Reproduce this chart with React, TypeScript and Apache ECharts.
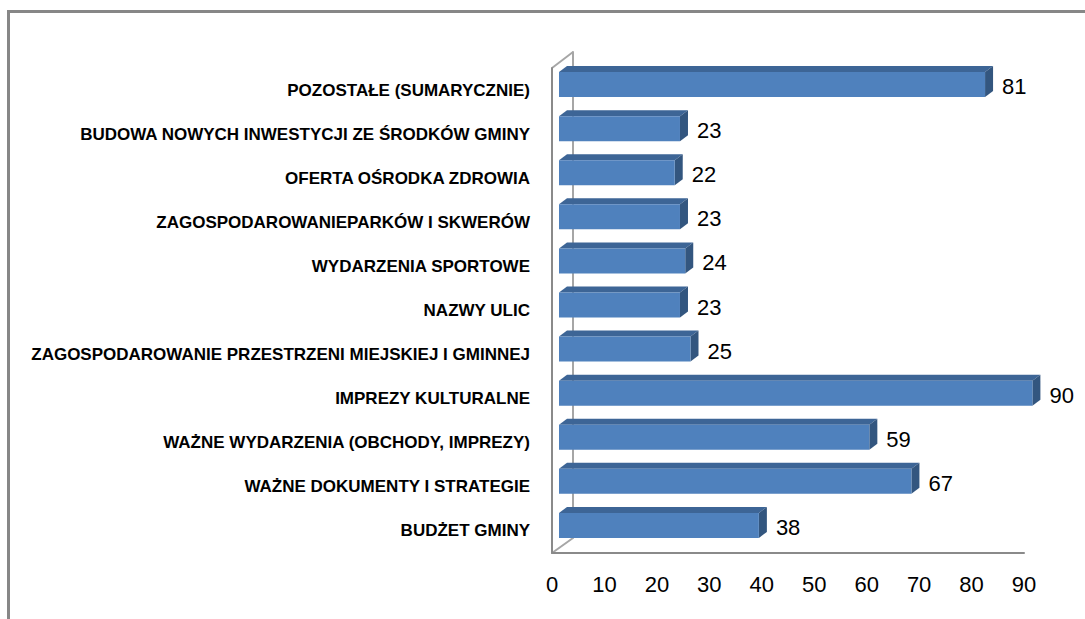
import React, { useEffect, useRef } from "react";
import * as echarts from "echarts";

const categories = [
  "BUDŻET GMINY",
  "WAŻNE DOKUMENTY I STRATEGIE",
  "WAŻNE WYDARZENIA (OBCHODY, IMPREZY)",
  "IMPREZY KULTURALNE",
  "ZAGOSPODAROWANIE PRZESTRZENI MIEJSKIEJ I GMINNEJ",
  "NAZWY ULIC",
  "WYDARZENIA SPORTOWE",
  "ZAGOSPODAROWANIEPARKÓW I SKWERÓW",
  "OFERTA OŚRODKA ZDROWIA",
  "BUDOWA NOWYCH INWESTYCJI ZE ŚRODKÓW GMINY",
  "POZOSTAŁE (SUMARYCZNIE)",
];
const values = [38, 67, 59, 90, 25, 23, 24, 23, 22, 23, 81];
const xMin = 0;
const xMax = 90;
const xStep = 10;

const FONT = '"Liberation Sans", Arial, sans-serif';

export default function App() {
  const ref = useRef<HTMLDivElement>(null);
  useEffect(() => {
    if (!ref.current) return;
    const chart = echarts.init(ref.current, undefined, { renderer: "svg" });
    const data = values.map((v, i) => [v, i]);
    chart.setOption({
      animation: false,
      backgroundColor: "#ffffff",
      grid: [
        { left: 559, width: 473.4, top: 62.5, height: 485 },
        { left: 552, width: 472, top: 68, height: 485 },
        { left: 573, width: 450, top: 52, height: 486 },
      ],
      xAxis: [
        { gridIndex: 0, type: "value", min: xMin, max: xMax, interval: xStep, show: false },
        {
          gridIndex: 1,
          type: "value",
          min: xMin,
          max: xMax,
          interval: xStep,
          axisLine: { show: true, lineStyle: { color: "#8a8a8a", width: 2 } },
          axisTick: { show: false },
          splitLine: { show: false },
          axisLabel: { margin: 20, fontSize: 22, fontFamily: FONT, color: "#000" },
        },
        { gridIndex: 2, type: "value", min: xMin, max: xMax, show: false },
      ],
      yAxis: [
        { gridIndex: 0, type: "category", data: categories, show: false },
        {
          gridIndex: 1,
          type: "category",
          data: categories,
          axisLine: { show: true, lineStyle: { color: "#8a8a8a", width: 2 } },
          axisTick: { show: false },
          splitLine: { show: false },
          axisLabel: {
            margin: 22,
            fontSize: 17,
            fontWeight: "bold",
            fontFamily: FONT,
            color: "#000",
          },
        },
        {
          gridIndex: 2,
          type: "category",
          data: categories,
          axisLine: { show: true, lineStyle: { color: "#a6a6a6", width: 2 } },
          axisTick: { show: false },
          axisLabel: { show: false },
          splitLine: { show: false },
        },
      ],
      graphic: [
        {
          type: "rect",
          shape: { x: 8.5, y: 11.5, width: 1200, height: 700 },
          style: { fill: "none", stroke: "#878787", lineWidth: 3 },
        },
        {
          type: "line",
          shape: { x1: 552, y1: 68, x2: 573, y2: 52 },
          style: { stroke: "#a6a6a6", lineWidth: 2 },
        },
        {
          type: "line",
          shape: { x1: 552, y1: 553, x2: 573, y2: 538 },
          style: { stroke: "#a6a6a6", lineWidth: 2 },
        },
      ],
      series: [
        {
          type: "custom",
          xAxisIndex: 0,
          yAxisIndex: 0,
          clip: false,
          encode: { x: 0, y: 1 },
          data,
          renderItem: (params: any, api: any) => {
            const val = api.value(0);
            const cat = api.value(1);
            const p0 = api.coord([0, cat]);
            const p1 = api.coord([val, cat]);
            const band = api.size([0, 1])[1];
            const h = band * 0.567;
            const top = p0[1] - h / 2;
            const bottom = p0[1] + h / 2;
            const x0 = p0[0];
            const x1 = p1[0];
            const dx = 8;
            const dy = 6;
            return {
              type: "group",
              children: [
                {
                  type: "polygon",
                  shape: { points: [[x0, top], [x0 + dx, top - dy], [x1 + dx, top - dy], [x1, top]] },
                  style: { fill: "#3d6596" },
                },
                {
                  type: "polygon",
                  shape: { points: [[x1, top], [x1 + dx, top - dy], [x1 + dx, bottom - dy], [x1, bottom]] },
                  style: { fill: "#33567f" },
                },
                {
                  type: "rect",
                  shape: { x: x0, y: top, width: x1 - x0, height: h },
                  style: { fill: "#4f81bd" },
                },
                {
                  type: "text",
                  style: {
                    text: String(val),
                    x: x1 + 17,
                    y: p0[1] + 2,
                    align: "left",
                    verticalAlign: "middle",
                    fontSize: 22,
                    fontFamily: FONT,
                    fill: "#000",
                  },
                },
              ],
            };
          },
        },
      ],
    });
    return () => chart.dispose();
  }, []);
  return (
    <div
      ref={ref}
      style={{ position: "fixed", left: 0, top: 0, width: 1085, height: 619 }}
    />
  );
}
